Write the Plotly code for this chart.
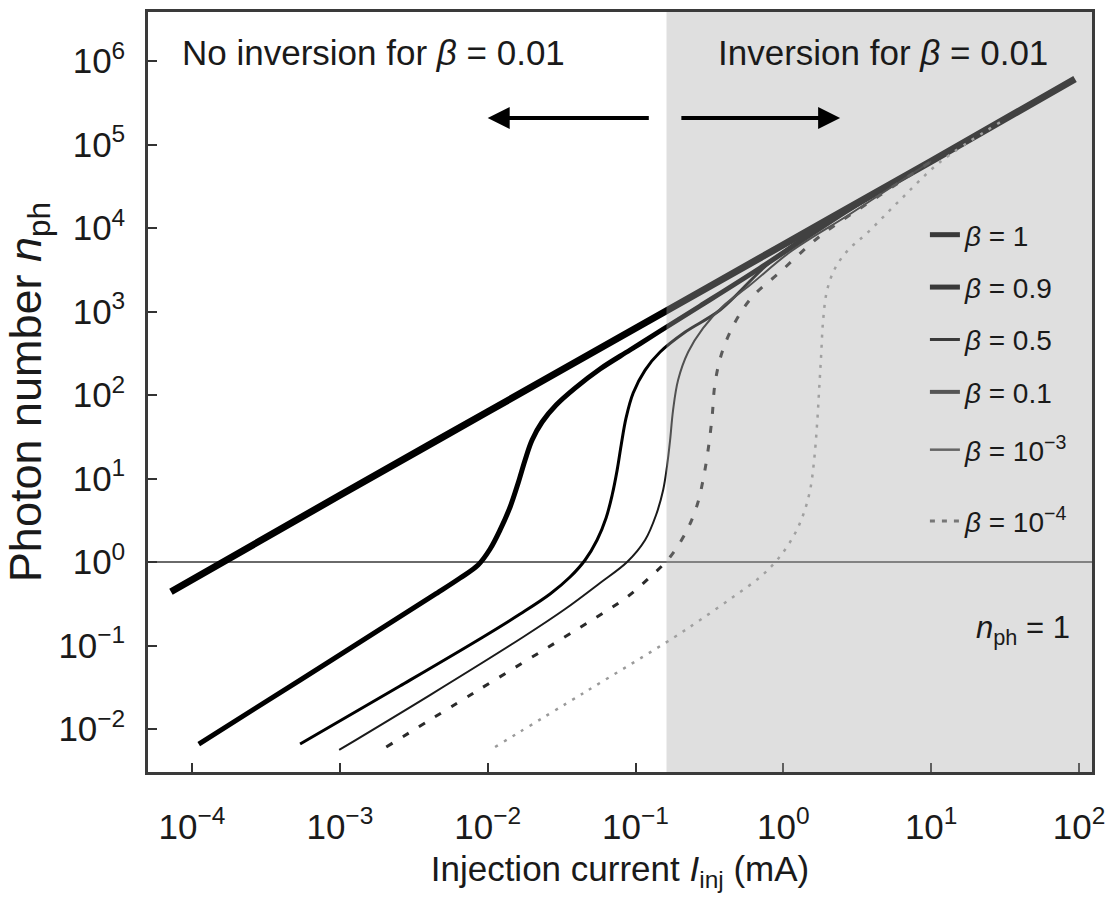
import plotly.graph_objects as go

# ---------------- data ----------------
# injection current (mA) and photon number for each curve
I_c1 = [7.2e-5, 1e-3, 1e-2, 0.1, 1, 10, 94]
n_c1 = [0.44, 6.3, 63, 630, 6300, 63000, 610000]

I_c2 = [1.11e-4, 5.38e-4, 2.55e-3, 4.55e-3, 6.51e-3, 8.61e-3, 0.01038, 0.01213, 0.01418, 0.01607,
        0.01791, 0.01997, 0.02333, 0.02904, 0.03899, 0.05754, 0.0918, 0.1466, 0.2735, 0.697,
        2.83, 10]
n_c2 = [6.6e-3, 0.0386, 0.222, 0.425, 0.643, 0.92, 1.43, 2.42, 4.56, 8.83,
        16.7, 28.9, 47.5, 75.9, 121, 205, 346, 584, 1164, 3319,
        17000, 63000]

I_c3 = [5.38e-4, 2.55e-3, 9.31e-3, 0.01656, 0.02642, 0.03606, 0.0456, 0.05495, 0.0632, 0.0695,
        0.0751, 0.08, 0.0863, 0.0964, 0.1161, 0.1466, 0.2168, 0.3733, 0.8147, 2.075, 10]
n_c3 = [6.6e-3, 0.0327, 0.1265, 0.238, 0.414, 0.661, 1.057, 1.834, 3.365, 6.34,
        12.6, 25.2, 53.1, 105.7, 199, 327, 568, 1042, 3918, 12470, 63000]

I_c4 = [9.89e-4, 4.07e-3, 0.01738, 0.03342, 0.05754, 0.0877, 0.1161, 0.1377, 0.1538, 0.1637,
        0.1714, 0.1795, 0.1941, 0.227, 0.2864, 0.3917, 0.5957, 1.112, 2.83, 10]
n_c4 = [5.61e-3, 0.0255, 0.1265, 0.2735, 0.561, 1.0, 1.834, 3.655, 7.28, 14.5,
        28.9, 66.1, 151, 327, 634, 1164, 2075, 5160, 14720, 63000]

I_c5 = [2.06e-3, 8.22e-3, 0.03236, 0.05754, 0.0877, 0.1256, 0.1714, 0.2234, 0.2612, 0.2864,
        0.3097, 0.3296, 0.3452, 0.3855, 0.4721, 0.6152, 0.9506, 1.774, 4.52, 10]
n_c5 = [6.09e-3, 0.0277, 0.123, 0.232, 0.381, 0.661, 1.148, 2.42, 4.82, 9.59,
        21.9, 54.6, 139, 327, 748, 1492, 2972, 8020, 24800, 63000]

I_c6 = [0.01122, 0.0456, 0.1795, 0.2735, 0.4571, 0.6966, 0.9078, 1.164, 1.361, 1.517,
        1.616, 1.693, 1.746, 1.802, 1.859, 1.978, 2.243, 2.744, 3.69, 6.166,
        11.5, 29.3]
n_c6 = [6.09e-3, 0.0277, 0.123, 0.202, 0.381, 0.661, 1.057, 1.992, 3.655, 7.28,
        16.7, 46.2, 115, 301, 791, 1808, 3319, 5458, 8710, 21640,
        61700, 185000]

legend_labels = ["<i>β</i> = 1", "<i>β</i> = 0.9", "<i>β</i> = 0.5", "<i>β</i> = 0.1",
                 "<i>β</i> = 10<sup>−3</sup>", "<i>β</i> = 10<sup>−4</sup>"]

x_tickvals = [1e-4, 1e-3, 1e-2, 1e-1, 1, 10, 100]
x_ticktext = ["10<sup>−4</sup>", "10<sup>−3</sup>", "10<sup>−2</sup>", "10<sup>−1</sup>",
              "10<sup>0</sup>", "10<sup>1</sup>", "10<sup>2</sup>"]
y_tickvals = [1e-2, 1e-1, 1, 10, 100, 1e3, 1e4, 1e5, 1e6]
y_ticktext = ["10<sup>−2</sup>", "10<sup>−1</sup>", "10<sup>0</sup>", "10<sup>1</sup>",
              "10<sup>2</sup>", "10<sup>3</sup>", "10<sup>4</sup>", "10<sup>5</sup>",
              "10<sup>6</sup>"]

inversion_current = 0.162   # mA, start of the shaded region
x_range_log = [-4.298, 2.088]
y_range_log = [-2.515, 6.587]

# ---------------- figure ----------------
FONT = "Liberation Sans, Arial, Helvetica, sans-serif"
TXT = "#1a1a1a"

fig = go.Figure()

curves = [
    (I_c1, n_c1, dict(color="#000000", width=7)),
    (I_c2, n_c2, dict(color="#000000", width=5)),
    (I_c3, n_c3, dict(color="#000000", width=3)),
    (I_c4, n_c4, dict(color="#1a1a1a", width=2)),
    (I_c5, n_c5, dict(color="#2a2a2a", width=3, dash="7px,12px")),
    (I_c6, n_c6, dict(color="#9a9a9a", width=2.5, dash="3px,7px")),
]
for xs, ys, ln in curves:
    fig.add_trace(go.Scatter(x=xs, y=ys, mode="lines", showlegend=False,
                             line=dict(shape="spline", smoothing=1.0, **ln)))

# legend entries (styles as in the reference legend)
leg_styles = [
    dict(color="#3a3a3a", width=5), dict(color="#3a3a3a", width=5),
    dict(color="#3a3a3a", width=3), dict(color="#555555", width=4),
    dict(color="#666666", width=2.5), dict(color="#777777", width=3, dash="5px,7px"),
]
for k, (lab, st) in enumerate(zip(legend_labels, leg_styles)):
    fig.add_trace(go.Scatter(x=[None], y=[None], mode="lines", name=lab, line=st,
                             legendgroup=f"g{k}", legend="legend" if k < 4 else "legend2"))

# shaded inversion region (semi-transparent, on top, as in the reference)
fig.add_shape(type="rect", xref="x", yref="paper", x0=inversion_current,
              x1=10 ** x_range_log[1], y0=0, y1=1, layer="above",
              fillcolor="rgba(170,170,170,0.38)", line_width=0)
# n_ph = 1 reference line
fig.add_shape(type="line", xref="paper", yref="y", x0=0, x1=1, y0=1, y1=1,
              line=dict(color="#6a6a6a", width=2), layer="below")

ann_font = dict(family=FONT, size=35, color=TXT)
fig.add_annotation(text="No inversion for <i>β</i> = 0.01", xref="paper", yref="paper",
                   x=0.034, y=0.947, xanchor="left", yanchor="middle", showarrow=False, font=ann_font)
fig.add_annotation(text="Inversion for <i>β</i> = 0.01", xref="paper", yref="paper",
                   x=0.9555, y=0.947, xanchor="right", yanchor="middle", showarrow=False, font=ann_font)
fig.add_annotation(text="<i>n</i><sub>ph</sub> = 1", xref="paper", yref="paper",
                   x=0.979, y=0.187, xanchor="right", yanchor="middle", showarrow=False,
                   font=dict(family=FONT, size=31, color=TXT))
# arrows (log units for annotation positions)
for head, tail in [(-2.0, -0.90), (0.384, -0.70)]:
    fig.add_annotation(text="", x=head, y=5.317, ax=tail, ay=5.317, xref="x", yref="y",
                       axref="x", ayref="y", showarrow=True, arrowhead=2, arrowsize=1.1,
                       arrowwidth=4, arrowcolor="#000000")

axis_common = dict(type="log", showgrid=False, zeroline=False, showline=True, mirror=True,
                   linecolor="#3a3a3a", linewidth=2.5, ticks="inside", ticklen=9,
                   tickwidth=2, tickcolor="#333333", ticklabeloverflow="allow",
                   tickfont=dict(family=FONT, size=35, color=TXT))

fig.update_layout(
    width=1111, height=924,
    margin=dict(l=148, r=19, t=12, b=152, autoexpand=False),
    paper_bgcolor="white", plot_bgcolor="white",
    xaxis=dict(range=x_range_log, tickvals=x_tickvals, ticktext=x_ticktext,
               ticklabelstandoff=22,
               title=dict(text="Injection current <i>I</i><sub>inj</sub> (mA)",
                          font=dict(family=FONT, size=35, color=TXT), standoff=12),
               **axis_common),
    yaxis=dict(range=y_range_log, tickvals=y_tickvals, ticktext=y_ticktext,
               ticklabelstandoff=13,
               title=dict(text="Photon number <i>n</i><sub>ph</sub>",
                          font=dict(family=FONT, size=45, color=TXT), standoff=14),
               **axis_common),
    legend=dict(x=0.823, y=0.7395, xanchor="left", yanchor="top", bgcolor="rgba(0,0,0,0)",
                font=dict(family=FONT, size=28, color=TXT), tracegroupgap=13,
                itemwidth=30),
    legend2=dict(x=0.823, y=0.4566, xanchor="left", yanchor="top", bgcolor="rgba(0,0,0,0)",
                 font=dict(family=FONT, size=28, color=TXT), tracegroupgap=32,
                 itemwidth=30),
)

fig.write_html("out.html")
